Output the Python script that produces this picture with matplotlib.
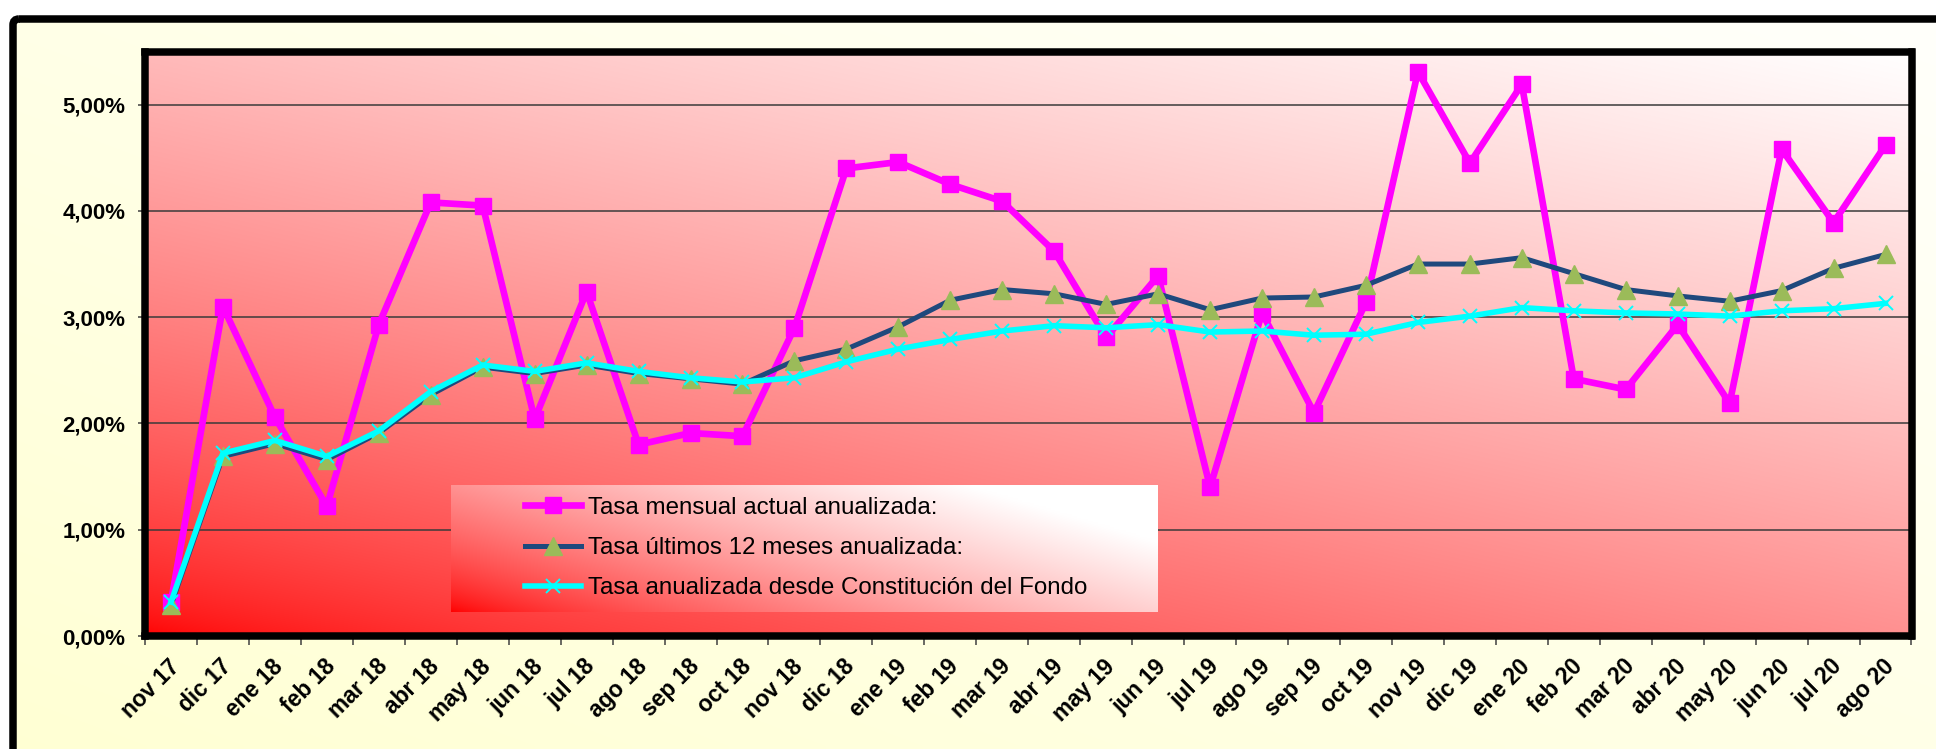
import numpy as np
import matplotlib
matplotlib.use('Agg')
import matplotlib.pyplot as plt
from matplotlib.patches import FancyBboxPatch
from matplotlib.font_manager import FontProperties
import matplotlib.transforms as mtransforms

plt.rcParams['font.family'] = ['Liberation Sans', 'DejaVu Sans']

months = ["nov 17", "dic 17", "ene 18", "feb 18", "mar 18", "abr 18", "may 18", "jun 18",
          "jul 18", "ago 18", "sep 18", "oct 18", "nov 18", "dic 18", "ene 19", "feb 19",
          "mar 19", "abr 19", "may 19", "jun 19", "jul 19", "ago 19", "sep 19", "oct 19",
          "nov 19", "dic 19", "ene 20", "feb 20", "mar 20", "abr 20", "may 20", "jun 20",
          "jul 20", "ago 20"]

tasa_mensual = [0.32, 3.10, 2.06, 1.22, 2.93, 4.08, 4.05, 2.04, 3.24, 1.80, 1.91, 1.88,
                2.90, 4.40, 4.46, 4.25, 4.09, 3.62, 2.81, 3.39, 1.40, 3.04, 2.10, 3.14,
                5.31, 4.45, 5.19, 2.42, 2.32, 2.93, 2.19, 4.58, 3.89, 4.62]

tasa_12_meses = [0.29, 1.69, 1.81, 1.66, 1.91, 2.27, 2.53, 2.47, 2.55, 2.47, 2.42, 2.37,
                 2.59, 2.70, 2.91, 3.16, 3.26, 3.22, 3.12, 3.22, 3.07, 3.18, 3.19, 3.30,
                 3.50, 3.50, 3.56, 3.41, 3.26, 3.20, 3.15, 3.25, 3.46, 3.59]

tasa_constitucion = [0.32, 1.72, 1.84, 1.69, 1.93, 2.30, 2.55, 2.49, 2.57, 2.49, 2.43, 2.39,
                     2.43, 2.58, 2.70, 2.79, 2.87, 2.92, 2.90, 2.93, 2.86, 2.87, 2.83, 2.84,
                     2.95, 3.01, 3.09, 3.06, 3.04, 3.03, 3.01, 3.06, 3.08, 3.13]

labels = ["Tasa mensual actual anualizada:",
          "Tasa últimos 12 meses anualizada:",
          "Tasa anualizada desde Constitución del Fondo"]

yticks = [0, 1, 2, 3, 4, 5]

W, H = 1936, 749
fig = plt.figure(figsize=(W / 100, H / 100), dpi=100)
fig.patch.set_facecolor('white')


def grad(nx, ny, ax_w, ax_h, gamma, c0, c1):
    x = np.linspace(0, 1, nx)
    y = np.linspace(1, 0, ny)
    X, Y = np.meshgrid(x, y)
    w = np.clip(ax_w * X + ax_h * Y, 0, 1) ** gamma
    c0 = np.array(c0)
    c1 = np.array(c1)
    return c0[None, None, :] * (1 - w[..., None]) + c1[None, None, :] * w[..., None]


# background axes in pixel coordinates
bg = fig.add_axes([0, 0, 1, 1])
bg.set_xlim(0, W)
bg.set_ylim(H, 0)
bg.axis('off')
yellow = grad(300, 120, 0.5, 0.5, 1.0, (1.0, 1.0, 0.83), (1.0, 1.0, 0.985))
bg.imshow(yellow, extent=(13, W, H, 19), aspect='auto', interpolation='bilinear', zorder=0)
frame = FancyBboxPatch((13, 19), W + 40, H + 40, boxstyle='round,pad=0,rounding_size=6',
                       lw=5.4, ec='black', fc='none', zorder=2)
bg.add_patch(frame)

L, R, T, B = 145, 1911.5, 51.5, 636
redg = grad(400, 160, 0.4, 0.6, 0.62, (1.0, 0.0, 0.0), (1.0, 1.0, 1.0))
bg.imshow(redg, extent=(L, R, B, T), aspect='auto', interpolation='bilinear', zorder=1)
bg.set_xlim(0, W)
bg.set_ylim(H, 0)

ax = fig.add_axes([L / W, 1 - B / H, (R - L) / W, (B - T) / H])
ax.set_facecolor('none')

x = np.arange(len(months))
ax.plot(x, tasa_mensual, color='#FF00FF', lw=4.8, marker='s', ms=12, mfc='#FF00FF',
        mec='#FF00FF', label=labels[0], zorder=3)
ax.plot(x, tasa_12_meses, color='#1F497D', lw=3.6, marker='^', ms=13, mfc='#9BBB59',
        mec='#9BBB59', label=labels[1], zorder=4)
ax.plot(x, tasa_constitucion, color='#00FFFF', lw=4.0, marker='x', ms=9.5, mew=1.4,
        mfc='#00FFFF', mec='#00FFFF', label=labels[2], zorder=5)

# legend box gradient
lx0, lx1, ly0, ly1 = 451, 1158, 612, 485
box = grad(300, 80, 0.75, 0.45, 0.7, (1.0, 0.0, 0.0), (1.0, 1.0, 1.0))
ax.imshow(box, extent=((lx0 - L) / (R - L), (lx1 - L) / (R - L),
                       (B - ly0) / (B - T), (B - ly1) / (B - T)),
          transform=ax.transAxes, aspect='auto', interpolation='bilinear', zorder=2)

ax.set_xlim(-0.5, len(months) - 0.5)
ax.set_ylim(0, 5.5)

for s in ax.spines.values():
    s.set_linewidth(5.4)
    s.set_color('black')
    s.set_capstyle('projecting')

ax.set_yticks(yticks)
ax.set_yticklabels([("%.2f%%" % v).replace('.', ',') for v in yticks],
                   fontsize=16, fontweight='bold')
ax.tick_params(axis='y', direction='out', length=5, width=1.1, color='#404040', pad=9.2)
ax.yaxis.grid(True, color='#3a3a3a', lw=1.1)

ax.set_xticks(x)
ax.set_xticklabels(months, fontsize=16.4, fontweight='bold', rotation=45,
                   ha='right', va='center', rotation_mode='anchor')
ax.tick_params(axis='x', which='major', length=0, pad=19.5)
ax.set_xticks(np.arange(-0.5, len(months), 1.0), minor=True)
ax.tick_params(axis='x', which='minor', direction='out', length=6.5, width=1.1, color='#404040')
offset = mtransforms.ScaledTranslation(0.05, 0, fig.dpi_scale_trans)
for lab in ax.get_xticklabels():
    lab.set_transform(lab.get_transform() + offset)

leg = ax.legend(loc='center left', bbox_to_anchor=(525 / W, 1 - 548 / H),
                bbox_transform=fig.transFigure, frameon=False, borderpad=0,
                borderaxespad=0, handlelength=2.3, handletextpad=0.3, labelspacing=0.75,
                prop=FontProperties(family='Liberation Sans', size=17.4))
leg.set_zorder(6)

fig.savefig('out.png', dpi=100)
